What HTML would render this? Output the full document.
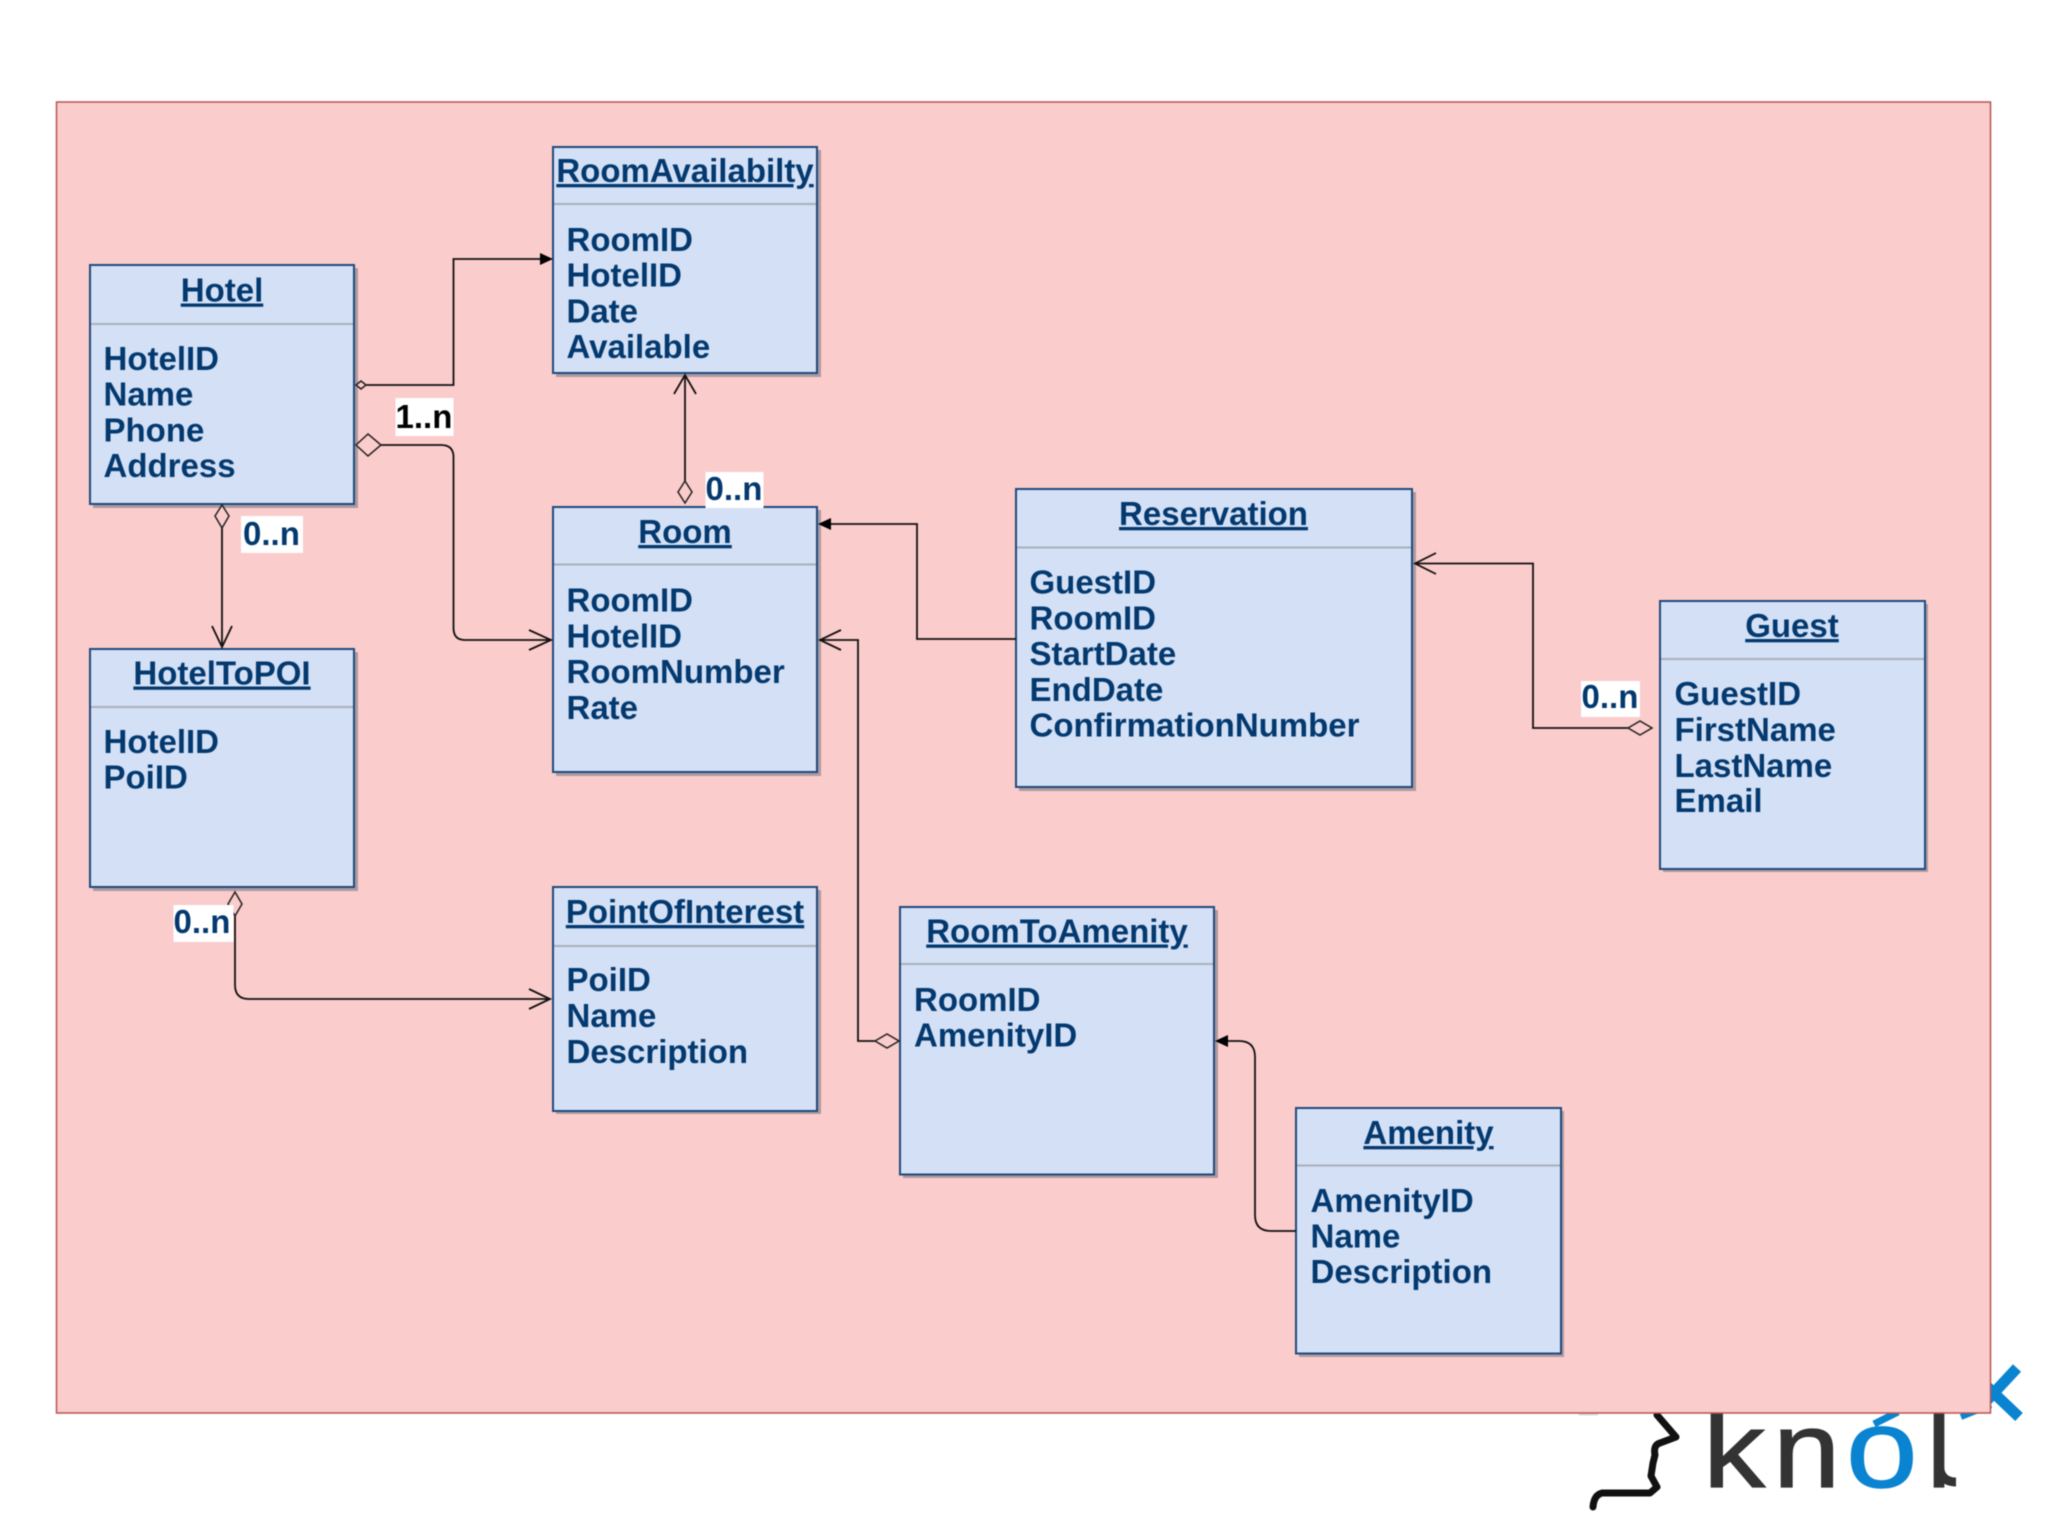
<!DOCTYPE html>
<html>
<head>
<meta charset="utf-8">
<style>
html,body{margin:0;padding:0;background:#fff;width:2048px;height:1535px;overflow:hidden}
svg{display:block;filter:blur(.4px)}
text{font-family:"Liberation Sans",sans-serif;font-weight:bold;font-size:33px;fill:#03396f}
.t{text-anchor:middle;text-decoration:underline}
.b{fill:#d3e0f5;stroke:#1f4a7c;stroke-width:2}
.s{fill:#ad9aa0}
.d{stroke:#a9b1ba;stroke-width:2}
.c{fill:none;stroke:#111;stroke-width:1.8}
.o{fill:#fbcccc;stroke:#222;stroke-width:1.5}
.a{fill:#000;stroke:none}
.l{fill:#fff;stroke:none}
.g{font-weight:normal;font-size:108px;fill:#333;stroke:#333;stroke-width:1.2}
.gb{font-weight:normal;font-size:112px;fill:#0a84d0;stroke:#0a84d0;stroke-width:1.2}
</style>
</head>
<body>
<svg width="2048" height="1535" viewBox="0 0 2048 1535" xmlns="http://www.w3.org/2000/svg">
<!-- logo -->
<g>
<text class="g" transform="translate(1703,1487) scale(1.15,1)" x="0" y="0">k</text>
<text class="g" transform="translate(1773,1487) scale(1.12,1)" x="0" y="0">n</text>
<text class="gb" transform="translate(1846,1487) scale(1.15,1)" x="0" y="0">o</text>
<text class="g" x="1927" y="1487">l</text>
<path d="M1939 1462 Q1939 1482 1956 1482" fill="none" stroke="#333" stroke-width="9"/>
<path d="M1874 1424 L1898 1412" fill="none" stroke="#0a84d0" stroke-width="7"/>
<path d="M2017 1368 L1978 1410 M2019 1417 L1978 1378" fill="none" stroke="#0a84d0" stroke-width="11"/>
<path d="M1961 1417 L1991 1405" fill="none" stroke="#0a84d0" stroke-width="6"/>
<path d="M1657 1415 L1676 1437 L1660 1443 Q1653 1445 1655 1455 L1653 1463 L1651 1476 L1657 1487 L1650 1493 L1602 1493 Q1594 1495 1593 1507" fill="none" stroke="#111" stroke-width="7" stroke-linejoin="round" stroke-linecap="round"/>
<path d="M1579 1414 L1598 1414" stroke="#ddd" stroke-width="3"/>
</g>
<!-- background -->
<rect x="56.5" y="102" width="1934" height="1311" fill="#fbcccc" stroke="#b85450" stroke-width="1.5"/>

<!-- shadows -->
<rect class="s" x="93" y="268" width="265" height="240"/>
<rect class="s" x="556" y="150" width="265" height="227"/>
<rect class="s" x="556" y="510" width="265" height="266"/>
<rect class="s" x="1019" y="492" width="397" height="299"/>
<rect class="s" x="1663" y="604" width="265" height="268"/>
<rect class="s" x="93" y="652" width="265" height="239"/>
<rect class="s" x="556" y="890" width="265" height="224"/>
<rect class="s" x="903" y="910" width="315" height="268"/>
<rect class="s" x="1299" y="1111" width="265" height="246"/>

<!-- Hotel -->
<rect class="b" x="90" y="265" width="264" height="239"/>
<line class="d" x1="91" y1="324" x2="353" y2="324"/>
<text class="t" x="222" y="301.5">Hotel</text>
<text x="103.5" y="370">HotelID</text>
<text x="103.5" y="405.7">Name</text>
<text x="103.5" y="441.4">Phone</text>
<text x="103.5" y="477">Address</text>

<!-- RoomAvailabilty -->
<rect class="b" x="553" y="147" width="264" height="226"/>
<line class="d" x1="554" y1="204" x2="816" y2="204"/>
<text class="t" x="685" y="182">RoomAvailabilty</text>
<text x="566.5" y="251">RoomID</text>
<text x="566.5" y="286.7">HotelID</text>
<text x="566.5" y="322.4">Date</text>
<text x="566.5" y="358">Available</text>

<!-- Room -->
<rect class="b" x="553" y="507" width="264" height="265"/>
<line class="d" x1="554" y1="564.5" x2="816" y2="564.5"/>
<text class="t" x="685" y="543">Room</text>
<text x="566.5" y="611.7">RoomID</text>
<text x="566.5" y="647.4">HotelID</text>
<text x="566.5" y="683">RoomNumber</text>
<text x="566.5" y="718.8">Rate</text>

<!-- Reservation -->
<rect class="b" x="1016" y="489" width="396" height="298"/>
<line class="d" x1="1017" y1="547.5" x2="1411" y2="547.5"/>
<text class="t" x="1213.5" y="525">Reservation</text>
<text x="1029.5" y="593.5">GuestID</text>
<text x="1029.5" y="629.5">RoomID</text>
<text x="1029.5" y="665.2">StartDate</text>
<text x="1029.5" y="701">EndDate</text>
<text x="1029.5" y="736.7">ConfirmationNumber</text>

<!-- Guest -->
<rect class="b" x="1660" y="601" width="265" height="268"/>
<line class="d" x1="1661" y1="659" x2="1924" y2="659"/>
<text class="t" x="1792" y="637">Guest</text>
<text x="1674.5" y="705">GuestID</text>
<text x="1674.5" y="741">FirstName</text>
<text x="1674.5" y="777">LastName</text>
<text x="1674.5" y="812">Email</text>

<!-- HotelToPOI -->
<rect class="b" x="90" y="649" width="264" height="238"/>
<line class="d" x1="91" y1="707" x2="353" y2="707"/>
<text class="t" x="222" y="684.5">HotelToPOI</text>
<text x="103.5" y="753">HotelID</text>
<text x="103.5" y="788.7">PoiID</text>

<!-- PointOfInterest -->
<rect class="b" x="553" y="887" width="264" height="224"/>
<line class="d" x1="554" y1="946" x2="816" y2="946"/>
<text class="t" x="685" y="923">PointOfInterest</text>
<text x="566.5" y="991">PoiID</text>
<text x="566.5" y="1027">Name</text>
<text x="566.5" y="1063">Description</text>

<!-- RoomToAmenity -->
<rect class="b" x="900" y="907" width="314" height="267.5"/>
<line class="d" x1="901" y1="964" x2="1213" y2="964"/>
<text class="t" x="1057" y="942.5">RoomToAmenity</text>
<text x="914" y="1011">RoomID</text>
<text x="914" y="1046.5">AmenityID</text>

<!-- Amenity -->
<rect class="b" x="1296" y="1108" width="265" height="245.5"/>
<line class="d" x1="1297" y1="1165.5" x2="1560" y2="1165.5"/>
<text class="t" x="1428.5" y="1144">Amenity</text>
<text x="1310.5" y="1212">AmenityID</text>
<text x="1310.5" y="1247.7">Name</text>
<text x="1310.5" y="1283">Description</text>

<!-- connector: Hotel -> RoomAvailabilty -->
<path class="c" d="M366 385 H453.5 V259 H541"/>
<polygon class="o" points="356,385 361,381 366,385 361,389"/>
<polygon class="a" points="553,259 540,253 540,265"/>

<!-- connector: Hotel -> Room -->
<path class="c" d="M381 445 H441 Q453.5 445 453.5 457 V628 Q453.5 640 465 640 H551"/>
<polyline class="c" points="529,630 551,640 529,650"/>
<polygon class="o" points="356,445 368,434 381,445 368,456"/>
<rect class="l" x="395.5" y="398" width="58" height="38"/>
<text x="395.5" y="428" style="fill:#000">1..n</text>

<!-- connector: Room -> RoomAvailabilty -->
<path class="c" d="M685 481 V375"/>
<polyline class="c" points="674,394 685,375 696,394"/>
<polygon class="o" points="685,481 692,492 685,503 678,492"/>
<rect class="l" x="705.5" y="472" width="58" height="36"/>
<text x="705.5" y="500">0..n</text>

<!-- connector: Hotel -> HotelToPOI -->
<path class="c" d="M222 528 V647"/>
<polyline class="c" points="212,626 222,647 232,626"/>
<polygon class="o" points="222,505 229,516 222,528 215,516"/>
<rect class="l" x="241" y="516" width="62" height="37"/>
<text x="243" y="545">0..n</text>

<!-- connector: Reservation -> Room -->
<path class="c" d="M1016 639 H917 V524 H830"/>
<polygon class="a" points="818,524 831,518 831,530"/>

<!-- connector: Guest -> Reservation -->
<path class="c" d="M1628 728 H1533 V563.5 H1415"/>
<polyline class="c" points="1436,553 1415,563.5 1436,574"/>
<polygon class="o" points="1628,728 1640,721 1652,728 1640,735"/>
<rect class="l" x="1581" y="681" width="59" height="36"/>
<text x="1581.5" y="708">0..n</text>

<!-- connector: RoomToAmenity -> Room -->
<path class="c" d="M875 1041 H858 V640 H820"/>
<polyline class="c" points="841,630 820,640 841,650"/>
<polygon class="o" points="875,1041 887,1034 899,1041 887,1048"/>

<!-- connector: Amenity -> RoomToAmenity -->
<path class="c" d="M1296 1231 H1271 Q1255 1231 1255 1215 V1057 Q1255 1041 1239 1041 H1227"/>
<polygon class="a" points="1215,1041 1228,1035 1228,1047"/>

<!-- connector: HotelToPOI -> PointOfInterest -->
<path class="c" d="M235 914 V985 Q235 999 249 999 H550"/>
<polyline class="c" points="529,989 550,999 529,1009"/>
<polygon class="o" points="235,892 242,904 235,916 228,904"/>
<rect class="l" x="173.5" y="905" width="60" height="37"/>
<text x="173.5" y="933">0..n</text>
</svg>
</body>
</html>
